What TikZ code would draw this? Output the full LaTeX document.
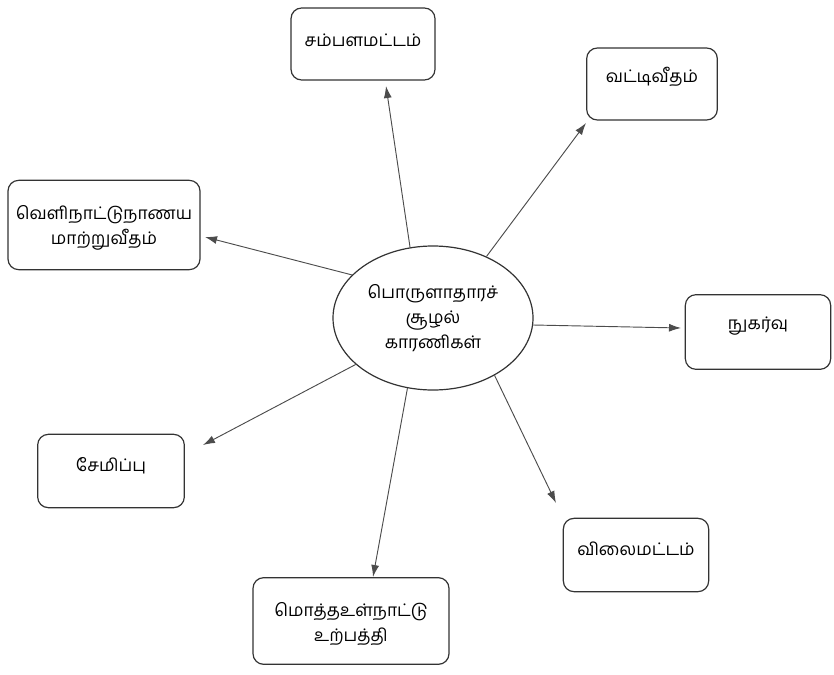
\documentclass[tikz,border=0pt]{standalone}
\usepackage{fontspec}
\newfontfamily\tamil[Script=Tamil]{Hind Madurai}
\usetikzlibrary{arrows.meta,shapes.geometric}
\begin{document}
\begin{tikzpicture}[x=0.75pt,y=-0.75pt,
  tamiltext/.style={font=\tamil\fontsize{13}{19}\selectfont,align=center},
  factor/.style={draw=black!80,line width=0.9pt,rounded corners=8pt,inner sep=0pt},
  hubshape/.style={draw=black!80,line width=0.9pt,ellipse,inner sep=0pt,
    minimum width=150pt,minimum height=108pt,tamiltext},
  link/.style={draw=black!70,line width=0.7pt,
    -{Latex[length=9pt,width=6pt]}}]
\useasboundingbox (0,0) rectangle (834,674);

% central ellipse
\node[hubshape] (hub) at (433,318) {பொருளாதாரச்\\சூழல்\\காரணிகள்};

% surrounding factor boxes, each with its label
\node[factor,minimum width=108pt,minimum height=54pt] (wage) at (363,44) {};
\node[tamiltext] at (363,40) {சம்பளமட்டம்};

\node[factor,minimum width=98pt,minimum height=54pt] (rate) at (652,84) {};
\node[tamiltext] at (652,77) {வட்டிவீதம்};

\node[factor,minimum width=144pt,minimum height=67pt] (fx) at (104,225) {};
\node[tamiltext] at (104,228) {வெளிநாட்டுநாணய\\மாற்றுவீதம்};

\node[factor,minimum width=109pt,minimum height=56pt] (cons) at (758,332) {};
\node[tamiltext] at (758,326) {நுகர்வு};

\node[factor,minimum width=110pt,minimum height=55pt] (save) at (111,471) {};
\node[tamiltext] at (111,466) {சேமிப்பு};

\node[factor,minimum width=109pt,minimum height=55pt] (price) at (636,555) {};
\node[tamiltext] at (636,549) {விலைமட்டம்};

\node[factor,minimum width=147pt,minimum height=65pt] (gdp) at (351,621) {};
\node[tamiltext] at (351,624) {மொத்தஉள்நாட்டு\\உற்பத்தி};

% arrow tips, just short of each box
\coordinate (tWage)  at (386,86);
\coordinate (tRate)  at (586,123);
\coordinate (tFx)    at (205,237);
\coordinate (tCons)  at (681,328);
\coordinate (tSave)  at (203,445);
\coordinate (tPrice) at (556,503);
\coordinate (tGdp)   at (373,577);

% arrows leave the ellipse border
\draw[link] (hub.108.7) -- (tWage);
\draw[link] (hub.49.6)  -- (tRate);
\draw[link] (hub.152.7) -- (tFx);
\draw[link] (hub.-4.7)  -- (tCons);
\draw[link] (hub.211)   -- (tSave);
\draw[link] (hub.-43)   -- (tPrice);
\draw[link] (hub.250.6) -- (tGdp);
\end{tikzpicture}
\end{document}
